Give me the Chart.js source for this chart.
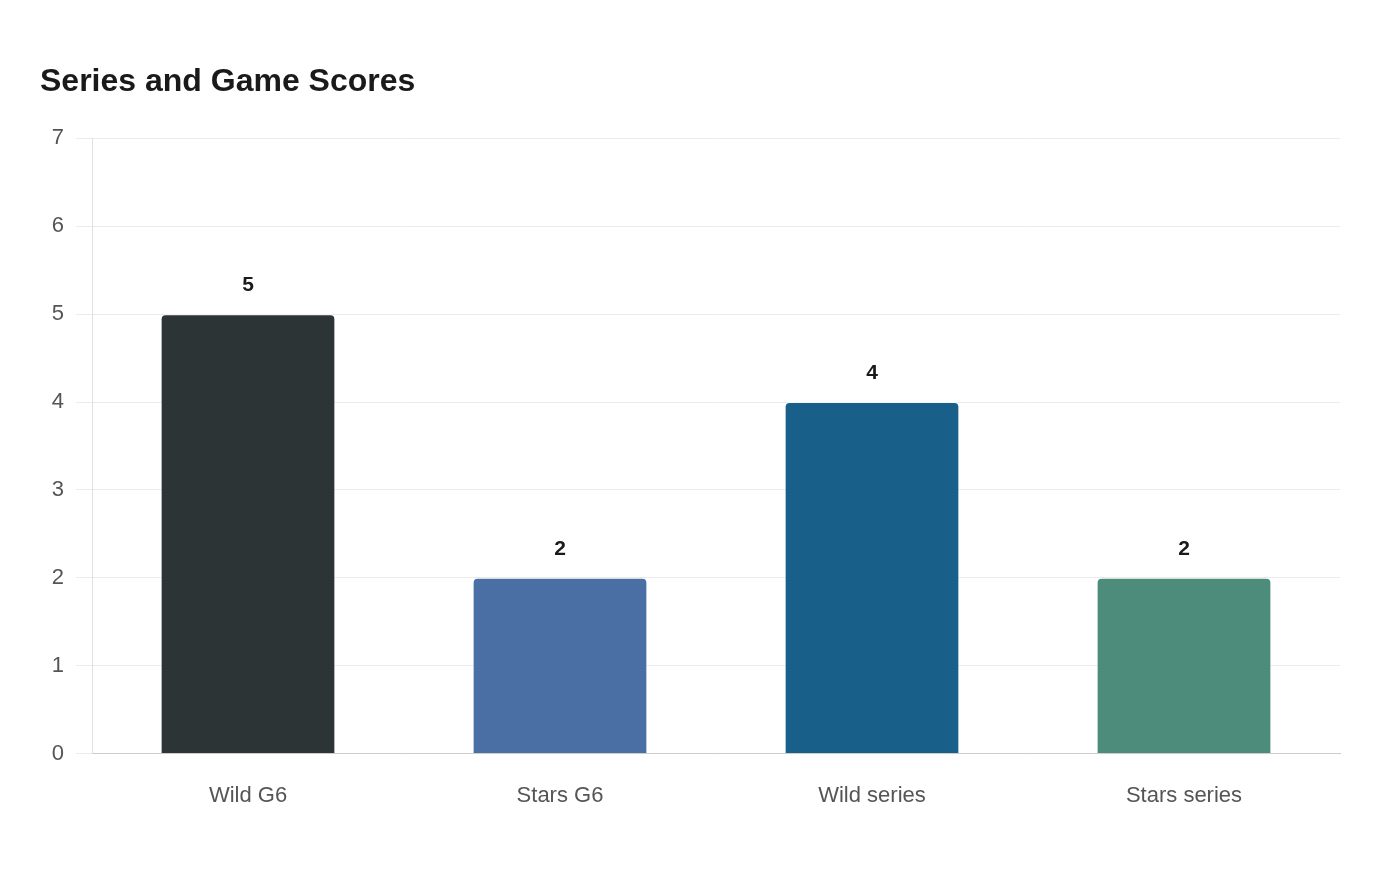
<!DOCTYPE html>
<html>
<head>
<meta charset="utf-8">
<script src="https://cdn.jsdelivr.net/npm/chart.js@4"></script>
<style>
  html, body { margin: 0; padding: 0; background: #fff; }
  #wrap { width: 1400px; height: 880px; position: relative; }
</style>
</head>
<body>
<div id="wrap"><canvas id="scoreChart"></canvas></div>
<script>
var labels = ['Wild G6', 'Stars G6', 'Wild series', 'Stars series'];
var scores = [5, 2, 4, 2];
var barColors = ['#2d3436', '#4a6fa5', '#18608a', '#4d8c7a'];
var yTicks = [0, 1, 2, 3, 4, 5, 6, 7];

var fontFamily = '"Liberation Sans", Arial, sans-serif';

// draws the value above each bar
var valueLabels = {
  id: 'valueLabels',
  afterDatasetsDraw: function(chart){
    var ctx = chart.ctx;
    var meta = chart.getDatasetMeta(0);
    ctx.save();
    ctx.font = 'bold 21px ' + fontFamily;
    ctx.fillStyle = '#1a1a1a';
    ctx.textAlign = 'center';
    ctx.textBaseline = 'middle';
    meta.data.forEach(function(bar, i){
      ctx.fillText(String(chart.data.datasets[0].data[i]), bar.x, bar.y - 29);
    });
    ctx.restore();
  }
};

var ctx = document.getElementById('scoreChart').getContext('2d');
var chart = new Chart(ctx, {
  type: 'bar',
  data: {
    labels: labels,
    datasets: [{
      label: 'Score',
      data: scores,
      backgroundColor: barColors,
      borderColor: 'rgba(255,255,255,0.6)',
      borderWidth: 1,
      borderRadius: { topLeft: 5, topRight: 5, bottomLeft: 0, bottomRight: 0 },
      borderSkipped: 'bottom',
      barPercentage: 0.7,
      categoryPercentage: 0.8
    }]
  },
  options: {
    responsive: true,
    maintainAspectRatio: false,
    animation: false,
    layout: { padding: { left: 40, right: 60, top: 63, bottom: 42 } },
    plugins: {
      legend: { display: false },
      tooltip: { enabled: false },
      title: {
        display: true,
        text: 'Series and Game Scores',
        align: 'start',
        color: '#1a1a1a',
        font: { family: fontFamily, size: 32, weight: 'bold' },
        padding: { top: 0, bottom: 37 }
      }
    },
    scales: {
      x: {
        grid: { display: true, color: 'rgba(0,0,0,0)', drawTicks: false },
        border: { display: true, color: '#cccccc', width: 1 },
        ticks: {
          color: '#555555',
          padding: 29,
          font: { family: fontFamily, size: 22 }
        }
      },
      y: {
        min: 0,
        max: 7,
        afterBuildTicks: function(scale){
          scale.ticks = yTicks.map(function(v){ return { value: v }; });
        },
        afterFit: function(scale){ scale.width = 52; },
        grid: { color: '#ebebeb', lineWidth: 1, tickLength: 16 },
        border: { display: true, color: '#e0e0e0', width: 1 },
        ticks: {
          color: '#555555',
          padding: 12,
          font: { family: fontFamily, size: 22 }
        }
      }
    }
  },
  plugins: [valueLabels]
});
</script>
</body>
</html>
